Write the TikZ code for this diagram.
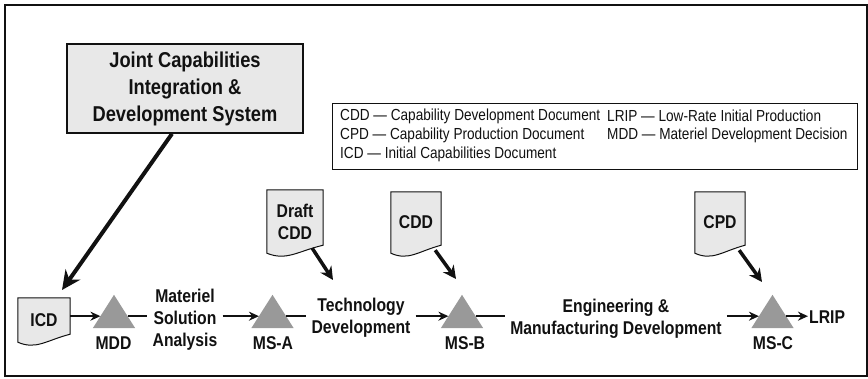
\documentclass[tikz,border=0pt]{standalone}
\usepackage{fontspec}
\setmainfont{Liberation Sans}[FakeStretch=0.85]
\usetikzlibrary{arrows.meta,calc,backgrounds}
\definecolor{boxgray}{HTML}{E8E8E8}
\definecolor{trigray}{HTML}{999999}
\definecolor{ink}{HTML}{111111}
\tikzset{
  lbl/.style={font=\bfseries\fontsize{18.5}{22}\selectfont, align=center, inner sep=5pt, text=ink},
  bigl/.style={font=\bfseries\fontsize{21.5}{27}\selectfont, align=center, text=ink},
  legtxt/.style={font=\fontsize{16}{19}\selectfont, anchor=west, inner sep=0pt, text=ink},
  docnode/.style={font=\bfseries\fontsize{18.5}{22}\selectfont, align=center, inner sep=0pt, text=ink},
  docsty/.style={draw=ink, line width=1pt, fill=boxgray},
  msbox/.style={minimum width=42pt, minimum height=33pt, inner sep=0pt},
  flow/.style={draw=ink, line width=2pt, -{Stealth[length=10pt,width=9pt]}},
  flowline/.style={draw=ink, line width=2pt},
  docarrow/.style={draw=ink, line width=3.5pt, -{Stealth[length=13pt,width=13pt]}},
  bigarrow/.style={draw=ink, line width=4pt, -{Stealth[length=19pt,width=18pt]}},
}
\newcommand\docshape[1]{%
  \draw[docsty] (#1.north west) -- (#1.north east) -- ($(#1.south east)+(0,-8)$)
    .. controls ($(#1.south east)!0.45!(#1.south west)+(0,-2)$) and ($(#1.south west)!0.35!(#1.south east)+(0,8)$) .. (#1.south west) -- cycle;}
\newcommand\mstri[1]{%
  \fill[trigray] (#1.south west) -- (#1.north) -- (#1.south east) -- cycle;
  \coordinate (#1L) at ($(#1.south west)!0.36!(#1.north)$);
  \coordinate (#1R) at ($(#1.south east)!0.36!(#1.north)$);}
\begin{document}
\begin{tikzpicture}[x=1pt,y=-1pt]
\useasboundingbox (0,0) rectangle (868,378);
\draw[ink, line width=2.5pt] (5,5) rectangle (867,376);

% JCIDS
\node[bigl, draw=ink, fill=boxgray, line width=1.5pt, minimum width=236pt, minimum height=89pt] (jcids) at (185,88.5)
  {Joint Capabilities\\Integration \&\\Development System};

% legend
\node[draw=ink, line width=1pt, minimum width=525pt, minimum height=66pt] (legend) at (594.5,136) {};
\node[legtxt] (l1) at (340,116) {CDD — Capability Development Document};
\node[legtxt] (l2) at (340,135) {CPD — Capability Production Document};
\node[legtxt] (l3) at (340,154) {ICD — Initial Capabilities Document};
\node[legtxt] (l4) at (607,116) {LRIP — Low-Rate Initial Production};
\node[legtxt] (l5) at (607,135) {MDD — Materiel Development Decision};

% documents
\node[docnode, minimum width=52pt, minimum height=44pt] (icd) at (44,320) {ICD};
\node[docnode, minimum width=56pt, minimum height=63pt] (dcdd) at (295,221.5) {Draft\\CDD};
\node[docnode, minimum width=50pt, minimum height=61pt] (cdd) at (416,222.5) {CDD};
\node[docnode, minimum width=50pt, minimum height=61pt] (cpd) at (720,222.5) {CPD};
\begin{scope}[on background layer]
  \docshape{icd}
  \docshape{dcdd}
  \docshape{cdd}
  \docshape{cpd}
\end{scope}

% milestones
\node[msbox] (mdd) at (114,311.5) {};
\node[msbox] (msa) at (272.5,311.5) {};
\node[msbox] (msb) at (462,311.5) {};
\node[msbox] (msc) at (772.5,311.5) {};
\mstri{mdd}
\mstri{msa}
\mstri{msb}
\mstri{msc}
\node[lbl, inner sep=0pt] (mddt) at (113.5,343) {MDD};
\node[lbl, inner sep=0pt] (msat) at (273,343) {MS-A};
\node[lbl, inner sep=0pt] (msbt) at (465,343) {MS-B};
\node[lbl, inner sep=0pt] (msct) at (773,343) {MS-C};

% phase labels
\node[lbl] (msa2) at (185,320) {Materiel\\Solution\\Analysis};
\node[lbl] (tdev) at (361,318) {Technology\\Development};
\node[lbl] (emd) at (616,319) {Engineering \&\\Manufacturing Development};
\node[lbl, inner sep=1pt, anchor=west] (lrip) at (808,317) {LRIP};

% flow
\draw[flow] (icd.east |- mddL) -- (mddL);
\draw[flowline] (mddR) -- (msa2.west |- mddR);
\draw[flow] (msa2.east |- msaL) -- (msaL);
\draw[flowline] (msaR) -- (tdev.west |- msaR);
\draw[flow] (tdev.east |- msbL) -- (msbL);
\draw[flowline] (msbR) -- (emd.west |- msbR);
\draw[flow] (emd.east |- mscL) -- (mscL);
\draw[flow] (mscR) -- (lrip.west |- mscR);

% inputs
\coordinate (icdin) at (62,290);
\coordinate (dcddin) at (333,280);
\coordinate (cddin) at (456,279);
\coordinate (cpdin) at (762,282);
\draw[bigarrow] ($(jcids.south)+(-13,0)$) -- (icdin);
\draw[docarrow] ($(dcdd.south east)+(-11,-5)$) -- (dcddin);
\draw[docarrow] ($(cdd.south east)+(-6,-3)$) -- (cddin);
\draw[docarrow] ($(cpd.south east)+(-6,-3)$) -- (cpdin);
\end{tikzpicture}
\end{document}
